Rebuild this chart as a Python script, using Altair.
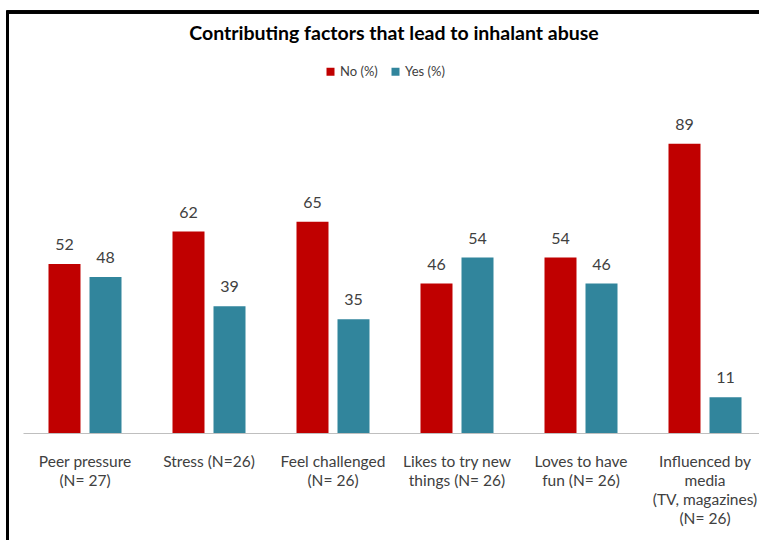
import altair as alt
import pandas as pd

categories = [
    "Peer pressure|(N= 27)",
    "Stress (N=26)",
    "Feel challenged|(N= 26)",
    "Likes to try new|things (N= 26)",
    "Loves to have|fun (N= 26)",
    "Influenced by|media|(TV, magazines)|(N= 26)",
]
no_values = [52, 62, 65, 46, 54, 89]
yes_values = [48, 39, 35, 54, 46, 11]
series = ["No (%)", "Yes (%)"]
colors = ["#C00000", "#31859C"]

rows = []
for c, n, y in zip(categories, no_values, yes_values):
    rows.append({"category": c, "series": series[0], "value": n})
    rows.append({"category": c, "series": series[1], "value": y})
df = pd.DataFrame(rows)

FONT = "Lato"

x_enc = alt.X(
    "category:N",
    sort=categories,
    scale=alt.Scale(range=[0, 744], paddingInner=0, paddingOuter=0),
    axis=alt.Axis(
        title=None,
        labelAngle=0,
        ticks=False,
        domainColor="#BFBFBF",
        domainWidth=1,
        labelExpr="split(datum.label, '|')",
        labelFontSize=15.5,
        labelColor="#404040",
        labelFont=FONT,
        labelLineHeight=19,
        labelPadding=21,
        labelLimit=0,
    ),
)
xo_enc = alt.XOffset(
    "series:N",
    sort=series,
    scale=alt.Scale(paddingInner=0, paddingOuter=0.512),
)
y_enc = alt.Y("value:Q", scale=alt.Scale(domain=[0, 100]), axis=None)

bars = alt.Chart(df).mark_bar(size=32).encode(
    x=x_enc,
    xOffset=xo_enc,
    y=y_enc,
    color=alt.Color(
        "series:N",
        scale=alt.Scale(domain=series, range=colors),
        legend=alt.Legend(
            title=None,
            orient="none",
            direction="horizontal",
            legendX=301,
            legendY=-43,
            symbolType="square",
            symbolSize=64,
            symbolStrokeWidth=0,
            labelFontSize=13,
            labelFont=FONT,
            labelColor="#404040",
            labelOffset=3,
            columnPadding=11,
        ),
    ),
)

labels = alt.Chart(df).mark_text(
    dy=-11, fontSize=16, font=FONT, color="#404040", baseline="bottom"
).encode(
    x=x_enc,
    xOffset=xo_enc,
    y=y_enc,
    text=alt.Text("value:Q"),
)

left_border = alt.Chart(df).mark_rule(color="black", strokeWidth=2.5).encode(
    x=alt.value(-15.5), y=alt.value(-96), y2=alt.value(440)
)
top_border = alt.Chart(df).mark_rule(color="black", strokeWidth=2.5).encode(
    x=alt.value(-16.5), x2=alt.value(760), y=alt.value(-96)
)

chart = (
    alt.layer(bars, labels, left_border, top_border)
    .properties(
        width=736,
        height=325,
        autosize=alt.AutoSizeParams(type="none"),
        padding={"left": 23, "top": 108, "right": 0, "bottom": 107},
        title=alt.TitleParams(
            "Contributing factors that lead to inhalant abuse",
            font=FONT,
            fontSize=19.5,
            fontWeight="bold",
            color="black",
            anchor="middle",
            baseline="alphabetic",
            offset=0,
            dy=49,
            dx=3,
        ),
    )
    .configure(background="white", view=alt.ViewConfig(stroke=None, strokeWidth=0))
)

chart.save("out.html", embed_options={"renderer": "svg", "actions": False})
